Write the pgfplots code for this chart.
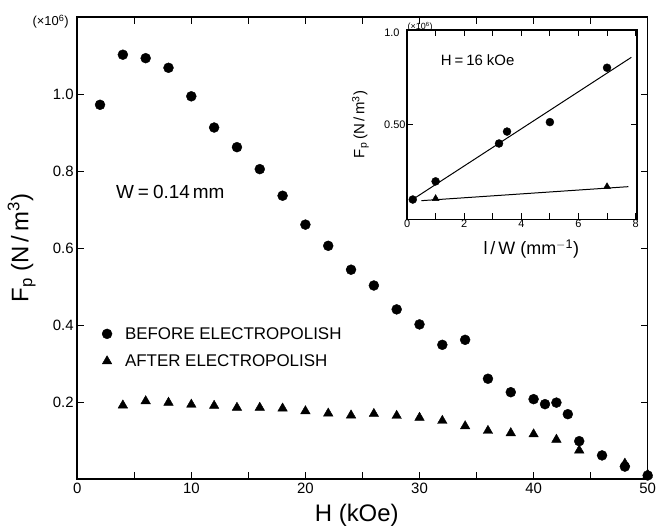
\documentclass[border=0pt]{standalone}
\usepackage{graphicx}
\usepackage{pgfplots}
\pgfplotsset{compat=1.18}
\usepackage{fontspec}
\setmainfont{Liberation Sans}
\begin{document}
\scalebox{0.5}{%
\begin{tikzpicture}
\path (-77.5pt,-49pt) rectangle (578.5pt,481pt);
\begin{axis}[
  at={(0pt,0pt)}, anchor=south west,
  scale only axis, width=572.5pt, height=464pt,
  xmin=0, xmax=50, ymin=0, ymax=1.2, clip=false,
  axis line style={line width=1.6pt, black},
  xtick={0,10,...,50}, minor xtick={5,15,...,45},
  ytick={0.2,0.4,0.6,0.8,1.0}, yticklabels={0.2,0.4,0.6,0.8,1.0},
  tick align=inside,
  major tick length=7pt, minor tick length=7pt,
  tick style={black, line width=1pt},
  /pgf/number format/assume math mode=true,
  ticklabel style={font=\fontsize{15}{15}\selectfont},
  xticklabel style={inner xsep=0pt},
  xlabel={H (kOe)},
  ylabel={F\textsubscript{p} (N\,/\,m\textsuperscript{3})},
  label style={font=\fontsize{24}{24}\selectfont},
  xlabel style={at={(0.49,-0.077)}, anchor=center},
  ylabel style={at={(-0.0975,0.5)}, anchor=center},
  legend style={at={(0.038,0.338)}, anchor=north west, draw=none, fill=none,
    font=\fontsize{17}{17}\selectfont, row sep=10pt},
  legend cell align=left,
  legend image code/.code={\draw[#1] plot coordinates {(0.3cm,0cm)};},
]
\addplot[only marks, mark=*, mark size=5pt, black] coordinates {
(2,0.972) (4,1.102) (6,1.093) (8,1.068) (10,0.994) (12,0.913) (14,0.862)
(16,0.805) (18,0.736) (20,0.661) (22,0.606) (24,0.544) (26,0.503) (28,0.441)
(30,0.402) (32,0.349) (34,0.362) (36,0.261) (38,0.226) (40,0.208) (41,0.195)
(42,0.199) (43,0.169) (44,0.099) (46,0.062) (48,0.033) (50,0.010)
};
\addlegendentry{\hspace{11pt}BEFORE ELECTROPOLISH}
\addplot[only marks, mark=triangle*, mark size=5.5pt, black] coordinates {
(4,0.192) (6,0.203) (8,0.199) (10,0.194) (12,0.191) (14,0.186) (16,0.186)
(18,0.184) (20,0.177) (22,0.171) (24,0.166) (26,0.170) (28,0.165) (30,0.160)
(32,0.152) (34,0.138) (36,0.126) (38,0.120) (40,0.117) (42,0.103) (44,0.075)
(48,0.041) (50,0.012)
};
\addlegendentry{\hspace{11pt}AFTER ELECTROPOLISH}
\node[anchor=east, font=\fontsize{13}{13}\selectfont] at (axis cs:0,1.2) [xshift=-5pt, yshift=-5pt] {(\texttimes10\textsuperscript{6})};
\node[anchor=west, font=\fontsize{19}{19}\selectfont] at (axis cs:3.1,0.746) {W\hspace{4pt}=\hspace{4pt}0.14\hspace{3pt}mm};
\end{axis}
\begin{axis}[
  at={(331pt,261pt)}, anchor=south west,
  scale only axis, width=230.8pt, height=190pt,
  xmin=0, xmax=8.05, ymin=0, ymax=1.0, clip=false,
  axis background/.style={fill=white},
  axis line style={line width=1.3pt, black},
  xtick={0,2,...,8}, minor xtick={1,3,5,7},
  ytick={0.5,1.0}, yticklabels={0.50,{}},
  tick align=inside,
  major tick length=6pt, minor tick length=6pt,
  tick style={black, line width=0.9pt},
  /pgf/number format/assume math mode=true,
  ticklabel style={font=\fontsize{11}{11}\selectfont},
  xticklabel style={yshift=3pt},
  yticklabel style={xshift=2pt},
  xlabel={l\,/\,W\hspace{5pt}(mm\textsuperscript{$-$1})},
  ylabel={F\textsubscript{p}\hspace{3pt}(N\,/\,m\textsuperscript{3})},
  label style={font=\fontsize{18}{18}\selectfont},
  ylabel style={at={(-0.203,0.5)}, anchor=center, font=\fontsize{15}{15}\selectfont},
  xlabel style={at={(0.54,-0.158)}, anchor=center},
]
\addplot[black, line width=1pt] coordinates {(0.1,0.095) (7.85,0.855)};
\addplot[black, line width=1pt] coordinates {(0.5,0.098) (7.75,0.172)};
\addplot[only marks, mark=*, mark size=4pt, black] coordinates {
(0.2,0.104) (1.0,0.200) (3.22,0.400) (3.5,0.463) (5.0,0.513) (7.0,0.800)
};
\addplot[only marks, mark=triangle*, mark size=4pt, black] coordinates {
(1.0,0.109) (7.0,0.172)
};
\node[anchor=west, font=\fontsize{15}{15}\selectfont] at (axis cs:1.06,0.842) {H\hspace{3pt}=\hspace{3pt}16\hspace{4pt}kOe};
\node[anchor=east, font=\fontsize{11}{11}\selectfont] at (axis cs:0,1) [xshift=-4pt, yshift=-3pt] {1.0};
\node[anchor=west, font=\fontsize{9}{9}\selectfont] at (axis cs:0,1) [xshift=-3pt, yshift=3pt] {(\texttimes10\textsuperscript{6})};
\end{axis}
\end{tikzpicture}}
\end{document}
